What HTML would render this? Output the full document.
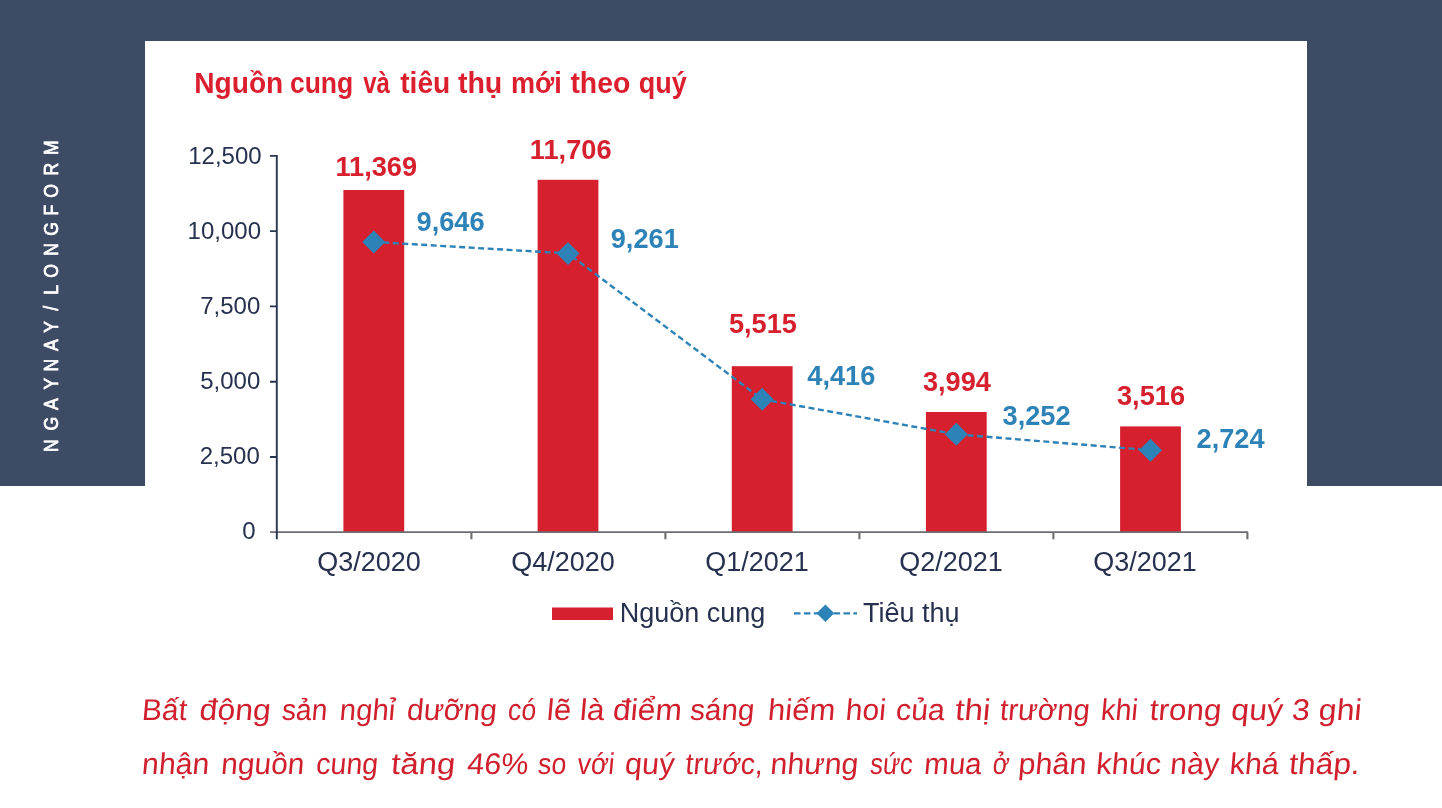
<!DOCTYPE html>
<html lang="vi"><head><meta charset="utf-8"><title>Nguồn cung và tiêu thụ mới theo quý</title>
<style>
html,body{margin:0;padding:0;background:#fff;}
body{width:1442px;height:808px;position:relative;overflow:hidden;font-family:"Liberation Sans",sans-serif;}
.band{position:absolute;left:0;top:0;width:1442px;height:486px;background:#3e4b65;}
.card{position:absolute;left:145px;top:41px;width:1162px;height:620px;background:#fff;}
.side{font:19.5px "Liberation Sans",sans-serif;fill:#fff;stroke:#fff;stroke-width:0.75px;stroke-linejoin:round;}
.ax{font:24px "Liberation Sans",sans-serif;fill:#27314f;}
.cat{font:27px "Liberation Sans",sans-serif;fill:#27314f;}
.leg{font:27px "Liberation Sans",sans-serif;fill:#27314f;}
.vr{font:bold 27.2px "Liberation Sans",sans-serif;fill:#d6202e;}
.vb{font:bold 27.2px "Liberation Sans",sans-serif;fill:#2d82b7;}
.ttl{font:bold 30px "Liberation Sans",sans-serif;fill:#dc1f2e;}
.cap{font:30px "Liberation Sans",sans-serif;fill:#d0202e;}
</style></head><body>
<div class="band"></div>
<div class="card"></div>
<svg width="1442" height="808" viewBox="0 0 1442 808" style="position:absolute;left:0;top:0">
<rect x="343.4" y="190.0" width="60.8" height="342.2" fill="#d6202e"/>
<rect x="537.6" y="179.8" width="60.8" height="352.4" fill="#d6202e"/>
<rect x="731.8" y="366.2" width="60.8" height="166.0" fill="#d6202e"/>
<rect x="925.9" y="412.0" width="60.8" height="120.2" fill="#d6202e"/>
<rect x="1120.1" y="426.4" width="60.8" height="105.8" fill="#d6202e"/>
<path d="M270 532.2 H1248" fill="none" stroke="#6d6e73" stroke-width="1.7"/>
<path d="M471.4 532.2 V539.2 M665.4 532.2 V539.2 M859.4 532.2 V539.2 M1053.4 532.2 V539.2 M1247.4 532.2 V539.2 " fill="none" stroke="#6d6e73" stroke-width="2.1"/>
<path d="M276.8 154.9 V539.2 M270 155.90 H277 M270 231.16 H277 M270 306.42 H277 M270 381.68 H277 M270 456.94 H277 " fill="none" stroke="#2a3350" stroke-width="1.9"/>
<text x="261.6" y="163.9" text-anchor="end" class="ax">12,500</text>
<text x="261" y="238.7" text-anchor="end" class="ax">10,000</text>
<text x="260.3" y="313.9" text-anchor="end" class="ax">7,500</text>
<text x="260.3" y="389.2" text-anchor="end" class="ax">5,000</text>
<text x="259.8" y="464.3" text-anchor="end" class="ax">2,500</text>
<text x="255.5" y="539.2" text-anchor="end" class="ax">0</text>
<text x="369.0" y="570.8" text-anchor="middle" class="cat">Q3/2020</text>
<text x="563.0" y="570.8" text-anchor="middle" class="cat">Q4/2020</text>
<text x="757.0" y="570.8" text-anchor="middle" class="cat">Q1/2021</text>
<text x="951.0" y="570.8" text-anchor="middle" class="cat">Q2/2021</text>
<text x="1145.0" y="570.8" text-anchor="middle" class="cat">Q3/2021</text>
<polyline points="373.8,241.9 568.0,253.4 762.1,399.3 956.3,434.3 1150.5,450.2" fill="none" stroke="#2d82b7" stroke-width="2.4" stroke-dasharray="6 3.5"/>
<path d="M362.2 241.9 L373.8 230.4 L385.2 241.9 L373.8 253.4 Z" fill="#2d82b7"/>
<path d="M556.5 253.4 L568.0 241.9 L579.5 253.4 L568.0 264.9 Z" fill="#2d82b7"/>
<path d="M750.6 399.3 L762.1 387.8 L773.6 399.3 L762.1 410.8 Z" fill="#2d82b7"/>
<path d="M944.8 434.3 L956.3 422.8 L967.8 434.3 L956.3 445.8 Z" fill="#2d82b7"/>
<path d="M1139.0 450.2 L1150.5 438.7 L1162.0 450.2 L1150.5 461.7 Z" fill="#2d82b7"/>
<text x="376.25" y="175.9" text-anchor="middle" class="vr">11,369</text>
<text x="570.7" y="158.6" text-anchor="middle" class="vr">11,706</text>
<text x="762.95" y="333.3" text-anchor="middle" class="vr">5,515</text>
<text x="956.9" y="390.6" text-anchor="middle" class="vr">3,994</text>
<text x="1151" y="404.8" text-anchor="middle" class="vr">3,516</text>
<text x="450.6" y="231" text-anchor="middle" class="vb">9,646</text>
<text x="644.75" y="247.8" text-anchor="middle" class="vb">9,261</text>
<text x="841.3" y="385.3" text-anchor="middle" class="vb">4,416</text>
<text x="1036.6" y="424.8" text-anchor="middle" class="vb">3,252</text>
<text x="1230.55" y="448.1" text-anchor="middle" class="vb">2,724</text>
<rect x="552" y="607.5" width="61" height="12.5" fill="#d6202e"/>
<text x="619.7" y="622.3" class="leg">Nguồn cung</text>
<path d="M794 613.3 H857" stroke="#2d82b7" stroke-width="2.2" stroke-dasharray="6.5 3.4" fill="none"/>
<path d="M816.6 613.3 L825.4 604.5 L834.2 613.3 L825.4 622.1 Z" fill="#2d82b7"/>
<text x="863" y="622.3" class="leg">Tiêu thụ</text>
<text transform="translate(57.8,452) rotate(-90) scale(0.9,1)" x="7.1 31.4 53.1 76.0 96.4 118.8 139.1 159.6 180.1 201.2 225.0 248.0 268.7 290.0 314.2 338.0" y="0" text-anchor="middle" class="side">NGAYNAY/LONGFORM</text>
<text y="93.4" class="ttl"><tspan x="194.30" textLength="89.00" lengthAdjust="spacingAndGlyphs">Nguồn</tspan> <tspan x="289.90" textLength="63.40" lengthAdjust="spacingAndGlyphs">cung</tspan> <tspan x="363.20" textLength="26.70" lengthAdjust="spacingAndGlyphs">và</tspan> <tspan x="400.20" textLength="50.10" lengthAdjust="spacingAndGlyphs">tiêu</tspan> <tspan x="457.90" textLength="44.40" lengthAdjust="spacingAndGlyphs">thụ</tspan> <tspan x="511.00" textLength="50.80" lengthAdjust="spacingAndGlyphs">mới</tspan> <tspan x="570.40" textLength="59.90" lengthAdjust="spacingAndGlyphs">theo</tspan> <tspan x="638.70" textLength="48.00" lengthAdjust="spacingAndGlyphs">quý</tspan></text>
<text transform="translate(0,720.0) skewX(-5)" y="0" class="cap"><tspan x="141.36" textLength="44.90" lengthAdjust="spacingAndGlyphs">Bất</tspan> <tspan x="198.82" textLength="71.34" lengthAdjust="spacingAndGlyphs">động</tspan> <tspan x="281.28" textLength="45.40" lengthAdjust="spacingAndGlyphs">sản</tspan> <tspan x="339.10" textLength="55.46" lengthAdjust="spacingAndGlyphs">nghỉ</tspan> <tspan x="406.32" textLength="89.84" lengthAdjust="spacingAndGlyphs">dưỡng</tspan> <tspan x="507.32" textLength="28.14" lengthAdjust="spacingAndGlyphs">có</tspan> <tspan x="546.36" textLength="24.06" lengthAdjust="spacingAndGlyphs">lẽ</tspan> <tspan x="579.34" textLength="24.62" lengthAdjust="spacingAndGlyphs">là</tspan> <tspan x="612.32" textLength="68.86" lengthAdjust="spacingAndGlyphs">điểm</tspan> <tspan x="689.54" textLength="64.14" lengthAdjust="spacingAndGlyphs">sáng</tspan> <tspan x="767.36" textLength="67.32" lengthAdjust="spacingAndGlyphs">hiếm</tspan> <tspan x="845.10" textLength="40.12" lengthAdjust="spacingAndGlyphs">hoi</tspan> <tspan x="895.34" textLength="48.86" lengthAdjust="spacingAndGlyphs">của</tspan> <tspan x="954.58" textLength="35.12" lengthAdjust="spacingAndGlyphs">thị</tspan> <tspan x="999.32" textLength="89.88" lengthAdjust="spacingAndGlyphs">trường</tspan> <tspan x="1100.32" textLength="36.90" lengthAdjust="spacingAndGlyphs">khi</tspan> <tspan x="1149.04" textLength="71.66" lengthAdjust="spacingAndGlyphs">trong</tspan> <tspan x="1230.60" textLength="51.68" lengthAdjust="spacingAndGlyphs">quý</tspan> <tspan x="1291.34" textLength="17.84" lengthAdjust="spacingAndGlyphs">3</tspan> <tspan x="1318.10" textLength="42.86" lengthAdjust="spacingAndGlyphs">ghi</tspan></text>
<text transform="translate(0,773.9) skewX(-5)" y="0" class="cap"><tspan x="141.36" textLength="67.32" lengthAdjust="spacingAndGlyphs">nhận</tspan> <tspan x="220.60" textLength="83.06" lengthAdjust="spacingAndGlyphs">nguồn</tspan> <tspan x="315.56" textLength="61.90" lengthAdjust="spacingAndGlyphs">cung</tspan> <tspan x="390.58" textLength="64.10" lengthAdjust="spacingAndGlyphs">tăng</tspan> <tspan x="466.54" textLength="61.16" lengthAdjust="spacingAndGlyphs">46%</tspan> <tspan x="537.30" textLength="28.40" lengthAdjust="spacingAndGlyphs">so</tspan> <tspan x="576.82" textLength="36.90" lengthAdjust="spacingAndGlyphs">với</tspan> <tspan x="624.32" textLength="49.48" lengthAdjust="spacingAndGlyphs">quý</tspan> <tspan x="684.82" textLength="77.50" lengthAdjust="spacingAndGlyphs">trước,</tspan> <tspan x="769.84" textLength="87.82" lengthAdjust="spacingAndGlyphs">nhưng</tspan> <tspan x="869.52" textLength="42.48" lengthAdjust="spacingAndGlyphs">sức</tspan> <tspan x="923.60" textLength="57.36" lengthAdjust="spacingAndGlyphs">mua</tspan> <tspan x="992.08" textLength="16.68" lengthAdjust="spacingAndGlyphs">ở</tspan> <tspan x="1017.82" textLength="68.06" lengthAdjust="spacingAndGlyphs">phân</tspan> <tspan x="1095.60" textLength="64.84" lengthAdjust="spacingAndGlyphs">khúc</tspan> <tspan x="1169.58" textLength="48.72" lengthAdjust="spacingAndGlyphs">này</tspan> <tspan x="1229.10" textLength="49.12" lengthAdjust="spacingAndGlyphs">khá</tspan> <tspan x="1288.54" textLength="70.54" lengthAdjust="spacingAndGlyphs">thấp.</tspan></text>
</svg>
</body></html>
